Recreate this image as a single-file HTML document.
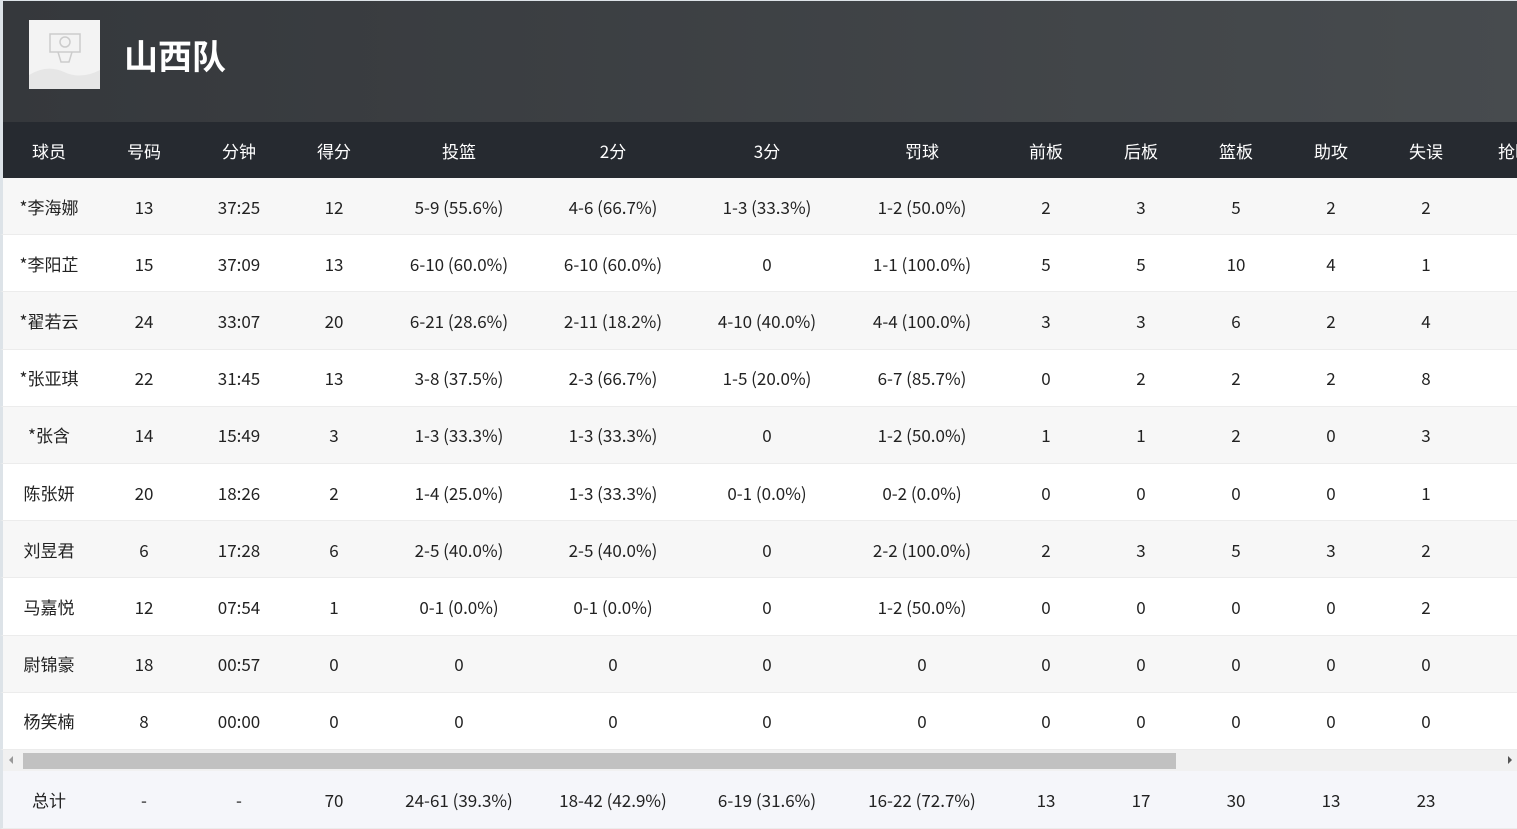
<!DOCTYPE html><html><head><meta charset="utf-8"><style>
*{margin:0;padding:0;box-sizing:border-box}
body{width:1517px;height:829px;overflow:hidden;background:#fff;font-family:"Noto Sans CJK SC","Liberation Sans",sans-serif;position:relative}
.top{position:absolute;left:0;top:0;width:1517px;height:122px;background:linear-gradient(90deg,#35383c,#474b4e);border-left:3px solid #dde3e8;border-top:1px solid #dde3e8}
.logo{position:absolute;left:29px;top:20px;width:71px;height:69px;background:#f3f3f3}
.title{position:absolute;left:124px;top:32px;font-size:34px;font-weight:bold;color:#fff;line-height:46px}
.row{position:absolute;left:0;width:1517px;border-left:3px solid #dde3e8}
.c{position:absolute;top:0;height:100%;display:flex;align-items:center;justify-content:center;font-size:17px;color:#222;white-space:nowrap;width:200px}
.hd .c{color:#fff}
</style></head><body>
<div class="top"></div>
<div class="logo"><svg width="71" height="69"><path d="M0 55 Q18 44 35 52 T71 50 V69 H0Z" fill="#e6e6e6"/><rect x="21" y="14" width="30" height="18" fill="none" stroke="#ccc" stroke-width="1.5"/><circle cx="36" cy="22" r="5" fill="none" stroke="#ccc" stroke-width="1.5"/><path d="M29 32 L32 42 H40 L43 32" fill="none" stroke="#ccc" stroke-width="1.5"/></svg></div>
<div class="title">山西队</div>
<div id="t"></div>
<div style="position:absolute;left:0;top:750px;width:1517px;height:21px;background:#f1f1f1;border-left:3px solid #dde3e8"></div>
<div style="position:absolute;left:23px;top:753px;width:1153px;height:16px;background:#c1c1c1"></div>
<div style="position:absolute;left:9px;top:756px;width:0;height:0;border-top:4px solid transparent;border-bottom:4px solid transparent;border-right:4px solid #999"></div>
<div style="position:absolute;left:1508px;top:756px;width:0;height:0;border-top:4px solid transparent;border-bottom:4px solid transparent;border-left:4px solid #555"></div>
<script>
const X=[49,144,239,334,459,613,767,922,1046,1141,1236,1331,1426,1515];
const H=["球员","号码","分钟","得分","投篮","2分","3分","罚球","前板","后板","篮板","助攻","失误","抢断"];
const D=[
["*李海娜","13","37:25","12","5-9 (55.6%)","4-6 (66.7%)","1-3 (33.3%)","1-2 (50.0%)","2","3","5","2","2"],
["*李阳芷","15","37:09","13","6-10 (60.0%)","6-10 (60.0%)","0","1-1 (100.0%)","5","5","10","4","1"],
["*翟若云","24","33:07","20","6-21 (28.6%)","2-11 (18.2%)","4-10 (40.0%)","4-4 (100.0%)","3","3","6","2","4"],
["*张亚琪","22","31:45","13","3-8 (37.5%)","2-3 (66.7%)","1-5 (20.0%)","6-7 (85.7%)","0","2","2","2","8"],
["*张含","14","15:49","3","1-3 (33.3%)","1-3 (33.3%)","0","1-2 (50.0%)","1","1","2","0","3"],
["陈张妍","20","18:26","2","1-4 (25.0%)","1-3 (33.3%)","0-1 (0.0%)","0-2 (0.0%)","0","0","0","0","1"],
["刘昱君","6","17:28","6","2-5 (40.0%)","2-5 (40.0%)","0","2-2 (100.0%)","2","3","5","3","2"],
["马嘉悦","12","07:54","1","0-1 (0.0%)","0-1 (0.0%)","0","1-2 (50.0%)","0","0","0","0","2"],
["尉锦豪","18","00:57","0","0","0","0","0","0","0","0","0","0"],
["杨笑楠","8","00:00","0","0","0","0","0","0","0","0","0","0"]];
let h="";
function row(top,ht,bg,cells,cls){let s=`<div class="row ${cls||""}" style="top:${top}px;height:${ht}px;background:${bg};${cls?"":"border-bottom:1px solid #ececec"}">`;
cells.forEach((v,i)=>{s+=`<div class="c" style="left:${X[i]-103}px">${v}</div>`});return s+"</div>";}
h+=row(122,56,"#262a30",H,"hd");
D.forEach((r,i)=>{h+=row(178+i*57.2,57.2,i%2?"#fff":"#f7f7f7",r)});
h+=row(771,58,"#f5f6fa",["总计","-","-","70","24-61 (39.3%)","18-42 (42.9%)","6-19 (31.6%)","16-22 (72.7%)","13","17","30","13","23"]);
document.getElementById("t").innerHTML=h;
</script>
</body></html>
